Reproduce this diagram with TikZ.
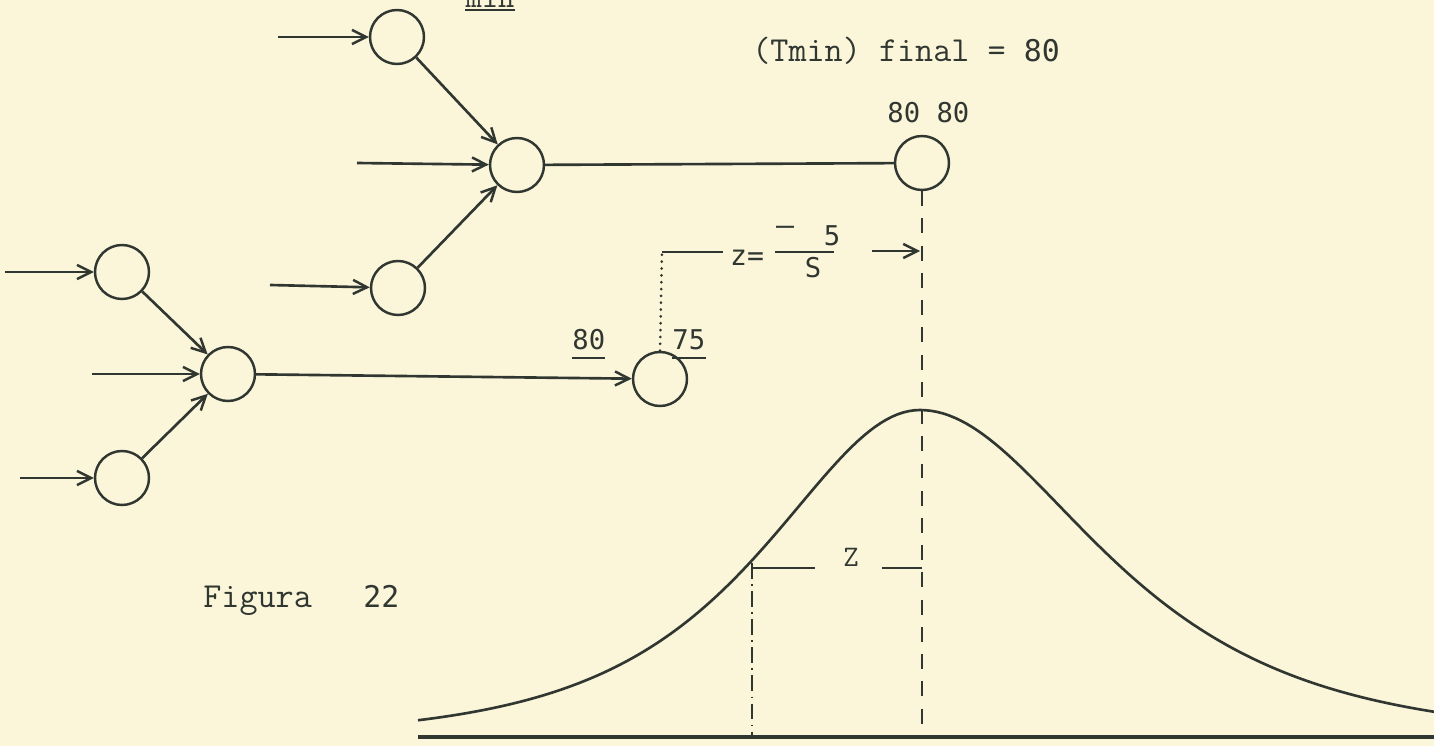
\documentclass[tikz,border=0pt]{standalone}
\usepackage{fontspec}
\newfontfamily\gt{DejaVu Sans Mono}
\usetikzlibrary{arrows.meta}
\definecolor{paper}{RGB}{251,246,218}
\definecolor{ink}{RGB}{48,54,48}
\begin{document}
\begin{tikzpicture}[x=0.02cm,y=-0.02cm,
  nd/.style={circle,draw=ink,line width=1.4pt,minimum size=1.08cm,inner sep=0pt},
  arr/.style={draw=ink,line width=1.5pt,-{Straight Barb[length=8pt,width=8pt,line width=1.4pt]}},
  ln/.style={draw=ink,line width=1.5pt},
  thin/.style={draw=ink,line width=1.1pt},
  dashv/.style={draw=ink,line width=1.5pt,dash pattern=on 8.5pt off 7pt},
  dashdotv/.style={draw=ink,line width=1.3pt,dash pattern=on 9pt off 3pt on 1pt off 3pt},
  dotv/.style={draw=ink,line width=1.6pt,line cap=round,dash pattern=on 0.1pt off 3.8pt},
  twt/.style={font=\ttfamily\fontsize{20}{22}\selectfont,text=ink,inner sep=0pt},
  gtt/.style={font=\gt\fontsize{15.5}{18}\selectfont,text=ink,inner sep=0pt}
]
\useasboundingbox (0,0) rectangle (1434,746);
\fill[paper] (0,0) rectangle (1434,746);
\clip (0,0) rectangle (1434,746);

% circles
\node[nd] (A) at (397,37) {};
\node[nd] (B) at (517,165) {};
\node[nd] (C) at (398,288) {};
\node[nd] (D) at (922,163) {};
\node[nd] (E) at (122,272) {};
\node[nd] (F) at (228,374) {};
\node[nd] (G) at (122,478) {};
\node[nd] (H) at (660,379) {};

% free ends of input arrows
\coordinate (inA) at (278,37);
\coordinate (inB) at (357,163);
\coordinate (inC) at (270,285);
\coordinate (inE) at (5,272);
\coordinate (inF) at (92,374);
\coordinate (inG) at (20,478);

\draw[arr] (inA) -- (A);
\draw[arr] (inB) -- (B);
\draw[arr] (inC) -- (C);
\draw[arr] (A) -- (B);
\draw[arr] (C) -- (B);
\draw[ln] (B) -- (D);
\draw[arr] (inE) -- (E);
\draw[arr] (inF) -- (F);
\draw[arr] (inG) -- (G);
\draw[arr] (E) -- (F);
\draw[arr] (G) -- (F);
\draw[arr] (F) -- (H);

% axis and verticals
\coordinate (ax0) at (418,737);
\coordinate (ax1) at (1434,737);
\draw[draw=ink,line width=1.8pt] (ax0) -- (ax1);
\coordinate (axD) at (922,737);
\draw[dashv] (D.south) -- (axD);
\coordinate (zt) at (752,563);
\coordinate (zb) at (752,737);
\draw[dashdotv] (zt) -- (zb);

% bell curve
\draw[draw=ink,line width=1.5pt,line join=round]
  plot[domain=418:920,samples=90] (\x,{737-327/cosh((\x-920)/137)})
  -- plot[domain=920:1434,samples=90] (\x,{737-327/cosh((\x-920)/158)});

% lower Z bracket
\coordinate (zl0) at (753,568);
\coordinate (zl1) at (815,568);
\coordinate (zr0) at (882,568);
\coordinate (zr1) at (922,568);
\draw[thin] (zl0) -- (zl1);
\draw[thin] (zr0) -- (zr1);
\node[twt,font=\ttfamily\fontsize{17}{19}\selectfont] (Zlow) at (851,557) {Z};

% upper z = -5/S construction
\coordinate (zc) at (662,252);
\coordinate (zL) at (723,252);
\draw[dotv] (H.north) -- (zc);
\draw[ln] (zc) -- (zL);
\node[gtt,font=\gt\fontsize{16}{18}\selectfont] (zeq) at (747,258) {z=};
\node[gtt,font=\gt\fontsize{17}{18}\selectfont] (minus) at (785,231) {–};
\node[gtt] (five) at (832,236) {5};
\coordinate (fb0) at (775,252);
\coordinate (fb1) at (834,252);
\draw[ln] (fb0) -- (fb1);
\node[gtt] (S) at (813,268) {S};
\coordinate (za) at (872,251);
\coordinate (zaE) at (920,251);
\draw[arr] (za) -- (zaE);

% labels
\node[twt,font=\ttfamily\fontsize{18}{20}\selectfont,anchor=base] (min) at (490,8) {min};
\draw[thin] ([yshift=-1.3pt]min.base west) -- ([yshift=-1.3pt]min.base east);
\node[twt,anchor=base west] (tfin) at (752,62) {(Tmin) final = {\gt\fontsize{17}{18}\selectfont 80}};
\node[gtt,anchor=base west] (n8080) at (887,123) {80 80};
\node[gtt,anchor=base west] (n80) at (572,350) {80};
\draw[thin] ([yshift=-4.5pt]n80.base west) -- ([yshift=-4.5pt]n80.base east);
\node[gtt,anchor=base west] (n75) at (672,350) {75};
\draw[thin] ([yshift=-4.5pt]n75.base west) -- ([yshift=-4.5pt]n75.base east);
\node[twt,anchor=base west] (fig) at (203,607) {Figura};
\node[gtt,font=\gt\fontsize{17}{19}\selectfont,anchor=base west] (n22) at (363,607) {22};
\end{tikzpicture}
\end{document}
